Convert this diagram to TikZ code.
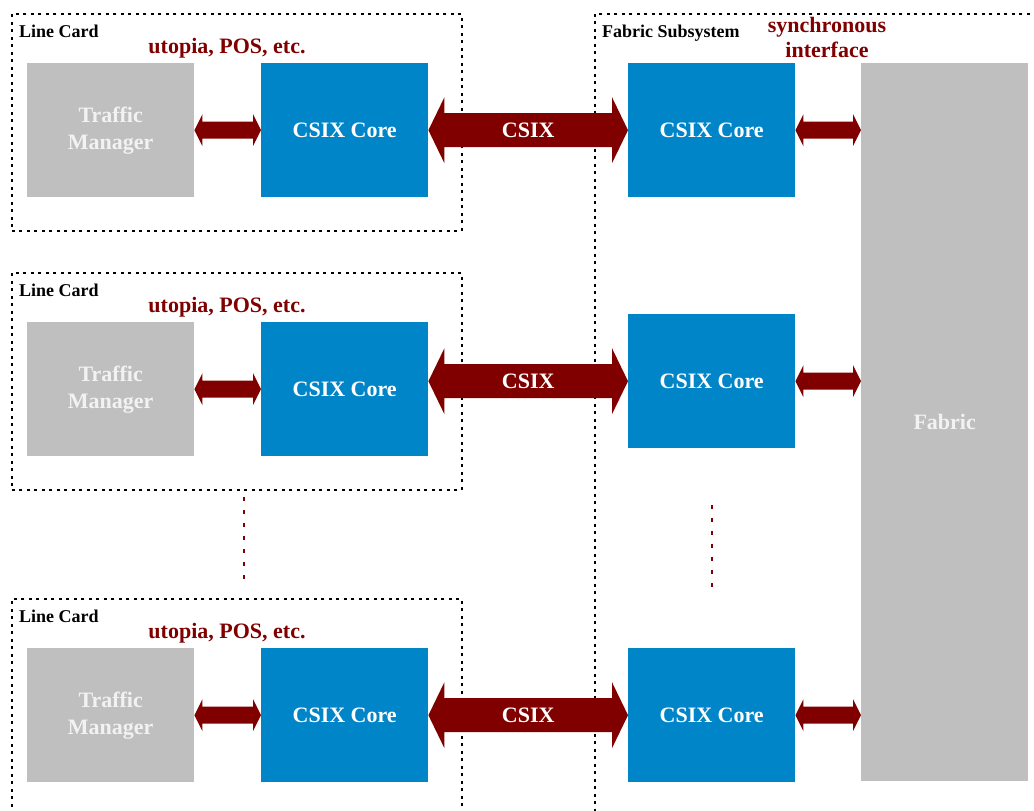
\documentclass[tikz,border=0pt]{standalone}
\usepackage{fontspec}
\setmainfont{Liberation Serif}
\usetikzlibrary{calc}

\definecolor{coreblue}{RGB}{0,133,200}
\definecolor{boxgray}{RGB}{191,191,191}
\definecolor{darkred}{RGB}{128,0,0}
\definecolor{softwhite}{RGB}{242,242,242}

% Fat two-headed arrow between two points:
% #1,#2 end points, #3 half body height, #4 half head height, #5 head length
\newcommand\bidir[5]{%
  \fill[link] (#1) -- ($(#1)+(#5,-#4)$) -- ($(#1)+(#5,-#3)$)
    -- ($(#2)+(-#5,-#3)$) -- ($(#2)+(-#5,-#4)$) -- (#2)
    -- ($(#2)+(-#5,#4)$) -- ($(#2)+(-#5,#3)$)
    -- ($(#1)+(#5,#3)$) -- ($(#1)+(#5,#4)$) -- cycle;}

\tikzset{
  unit/.style={rectangle, inner sep=0pt, minimum width=167pt, minimum height=134pt,
    anchor=north west, font=\fontsize{22}{27}\selectfont\bfseries, align=center},
  core/.style={unit, fill=coreblue, text=white},
  manager/.style={unit, fill=boxgray, text=softwhite},
  fabricbox/.style={unit, fill=boxgray, text=softwhite, minimum height=718pt},
  card/.style={rectangle, draw=black, line width=1.7pt, dash pattern=on 3pt off 4.5pt,
    inner sep=0pt, anchor=north west},
  title/.style={anchor=base west, inner sep=0pt, font=\fontsize{18}{20}\selectfont\bfseries},
  note/.style={anchor=base, inner sep=0pt, text=darkred, align=center,
    font=\fontsize{22}{25}\selectfont\bfseries},
  link/.style={fill=darkred},
  linktext/.style={text=white, inner sep=0pt, font=\fontsize{22}{24}\selectfont\bfseries},
  more/.style={draw=darkred, line width=2pt, dash pattern=on 4pt off 9pt},
}

\begin{document}
\begin{tikzpicture}[x=1pt, y=-1pt]
\useasboundingbox (0,0) rectangle (1034,811);
\clip (0,0) rectangle (1034,811);

% dotted enclosures
\node[card, minimum width=450pt, minimum height=217pt] (lc1) at (11,13) {};
\node[card, minimum width=450pt, minimum height=217pt] (lc2) at (11,272) {};
\node[card, minimum width=450pt, minimum height=260pt] (lc3) at (11,598) {};
\node[card, minimum width=480pt, minimum height=840pt] (fs) at (594,13) {};

% enclosure titles
\node[title] (t1) at ($(lc1.north west)+(8,24)$) {Line Card};
\node[title] (t2) at ($(lc2.north west)+(8,24)$) {Line Card};
\node[title] (t3) at ($(lc3.north west)+(8,24)$) {Line Card};
\node[title] (tf) at ($(fs.north west)+(8,24)$) {Fabric Subsystem};

\node[note] (u1) at ($(lc1.north west)+(216,40)$) {utopia, POS, etc.};
\node[note] (u2) at ($(lc2.north west)+(216,40)$) {utopia, POS, etc.};
\node[note] (u3) at ($(lc3.north west)+(216,40)$) {utopia, POS, etc.};
\node[note] (si) at (827,57) {synchronous\\interface};

% line card blocks
\node[manager] (tm1) at (27,63) {Traffic\\Manager};
\node[core] (cl1) at (261,63) {CSIX Core};
\node[manager] (tm2) at (27,322) {Traffic\\Manager};
\node[core] (cl2) at (261,322) {CSIX Core};
\node[manager] (tm3) at (27,648) {Traffic\\Manager};
\node[core] (cl3) at (261,648) {CSIX Core};

% fabric side blocks
\node[core] (cr1) at (628,63) {CSIX Core};
\node[core] (cr2) at (628,314) {CSIX Core};
\node[core] (cr3) at (628,648) {CSIX Core};
\node[fabricbox] (fab) at (861,63) {Fabric};

% manager <-> core
\bidir{tm1.east}{cl1.west}{8.5}{16}{8}
\bidir{tm2.east}{cl2.west}{8.5}{16}{8}
\bidir{tm3.east}{cl3.west}{8.5}{16}{8}

% CSIX links
\bidir{cl1.east}{cr1.west}{17}{33}{16}
\bidir{cl2.east |- cr2.west}{cr2.west}{17}{33}{16}
\bidir{cl3.east}{cr3.west}{17}{33}{16}
\node[linktext] (x1) at ($(cl1.east)!0.5!(cr1.west)$) {CSIX};
\node[linktext] (x2) at ($(cl2.east |- cr2.west)!0.5!(cr2.west)$) {CSIX};
\node[linktext] (x3) at ($(cl3.east)!0.5!(cr3.west)$) {CSIX};

% core <-> fabric
\bidir{cr1.east}{fab.west |- cr1.east}{8.5}{16}{8}
\bidir{cr2.east}{fab.west |- cr2.east}{8.5}{16}{8}
\bidir{cr3.east}{fab.west |- cr3.east}{8.5}{16}{8}

% continuation marks
\draw[more] (244,497) -- (244,582);
\draw[more] (711.5,505) -- (711.5,590);
\end{tikzpicture}
\end{document}
